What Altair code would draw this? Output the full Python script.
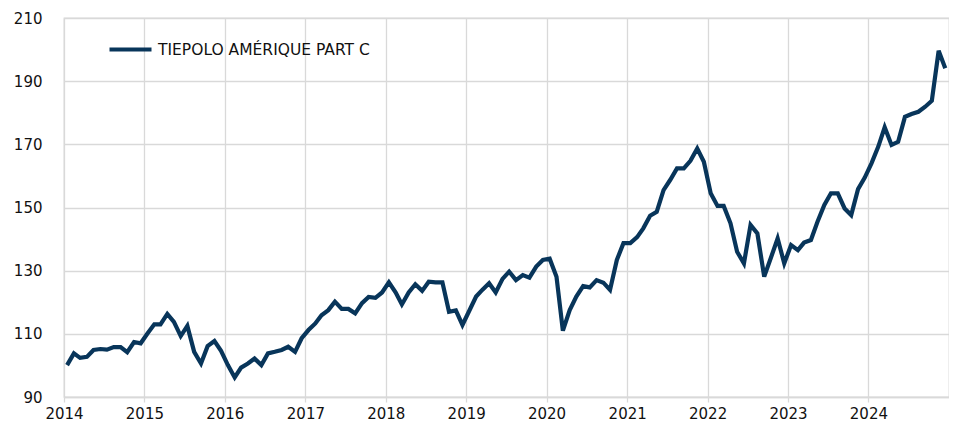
import altair as alt
import pandas as pd

series_name = "TIEPOLO AMÉRIQUE PART C"

years = list(range(2014, 2025))

values_2014 = [100.1, 103.8, 102.4, 102.7, 104.9, 105.2, 105.0, 105.8, 105.8, 104.2, 107.4, 107.0]
values_2015 = [110.1, 113.0, 113.0, 116.3, 113.8, 109.3, 112.5, 104.3, 100.6, 106.1, 107.7, 104.6]
values_2016 = [100.1, 96.2, 99.3, 100.6, 102.2, 100.1, 103.8, 104.3, 104.9, 105.9, 104.3, 108.6]
values_2017 = [111.2, 113.3, 115.9, 117.5, 120.2, 117.9, 117.9, 116.5, 119.7, 121.7, 121.4, 123.1]
values_2018 = [126.3, 123.1, 119.3, 123.1, 125.7, 123.6, 126.5, 126.3, 126.3, 117.0, 117.4, 112.8]
values_2019 = [117.3, 121.8, 123.9, 126.0, 123.1, 127.4, 129.7, 127.0, 128.6, 127.8, 131.3, 133.4]
values_2020 = [133.8, 128.1, 111.0, 117.5, 121.8, 125.1, 124.7, 127.0, 126.2, 123.9, 133.4, 138.7]
values_2021 = [138.7, 140.6, 143.4, 147.4, 148.6, 155.5, 158.7, 162.4, 162.4, 164.8, 168.7, 164.5]
values_2022 = [154.5, 150.5, 150.5, 145.0, 136.0, 132.3, 144.5, 141.8, 128.1, 134.0, 140.2, 132.3]
values_2023 = [138.1, 136.5, 138.9, 139.7, 145.5, 150.8, 154.5, 154.5, 149.7, 147.6, 155.8, 159.4]
values_2024 = [164.0, 169.3, 175.4, 169.8, 170.8, 178.7, 179.6, 180.3, 181.9, 183.8, 199.6, 194.1]

yearly = [values_2014, values_2015, values_2016, values_2017, values_2018, values_2019,
          values_2020, values_2021, values_2022, values_2023, values_2024]

y_ticks = [90, 110, 130, 150, 170, 190, 210]

rows = []
for yr, vals in zip(years, yearly):
    for m, v in enumerate(vals, start=1):
        rows.append({"date": f"{yr}-{m:02d}-15", "value": v, "series": series_name})
df = pd.DataFrame(rows)

line_color = "#08355a"
grid_color = "#d9d9d9"

chart = alt.Chart(df).mark_line(strokeWidth=4.2, strokeJoin="miter").encode(
    x=alt.X(
        "date:T",
        scale=alt.Scale(
            type="utc",
            domain=[alt.DateTime(year=2014, month=1, date=1, utc=True),
                    alt.DateTime(year=2025, month=1, date=1, utc=True)],
            nice=False,
        ),
        axis=alt.Axis(
            title=None,
            values=[alt.DateTime(year=y, month=1, date=1, utc=True) for y in years],
            format="%Y",
            formatType="utc",
            grid=True,
            gridColor=grid_color,
            gridWidth=1.3,
            domain=True,
            domainColor=grid_color,
            domainWidth=1.3,
            ticks=True,
            tickColor=grid_color,
            tickSize=5,
            tickWidth=1.3,
            labelAlign="center",
            labelFlush=False,
            labelBaseline="top",
            labelPadding=4,
            labelFontSize=15,
            labelColor="#111111",
        ),
    ),
    y=alt.Y(
        "value:Q",
        scale=alt.Scale(domain=[90, 210], nice=False, zero=False),
        axis=alt.Axis(
            title=None,
            values=y_ticks,
            grid=True,
            gridColor=grid_color,
            gridWidth=1.3,
            domain=False,
            ticks=False,
            labelPadding=22,
            labelFontSize=15,
            labelColor="#111111",
        ),
    ),
    color=alt.Color(
        "series:N",
        scale=alt.Scale(domain=[series_name], range=[line_color]),
        legend=alt.Legend(
            title=None,
            orient="none",
            legendX=43,
            legendY=8,
            padding=0,
            symbolType="stroke",
            symbolSize=1764,
            symbolStrokeWidth=4.2,
            labelFontSize=15.5,
            labelColor="#111111",
            labelOffset=4,
            labelLimit=0,
        ),
    ),
).properties(
    width=885,
    height=379,
    padding={"left": 56, "top": 10, "right": 0, "bottom": 25},
    autosize=alt.AutoSizeParams(type="none"),
).configure(
    font="DejaVu Sans",
).configure_view(
    stroke=grid_color,
    strokeWidth=1.3,
)

chart.save("out.html", embed_options={"renderer": "svg", "actions": False})
